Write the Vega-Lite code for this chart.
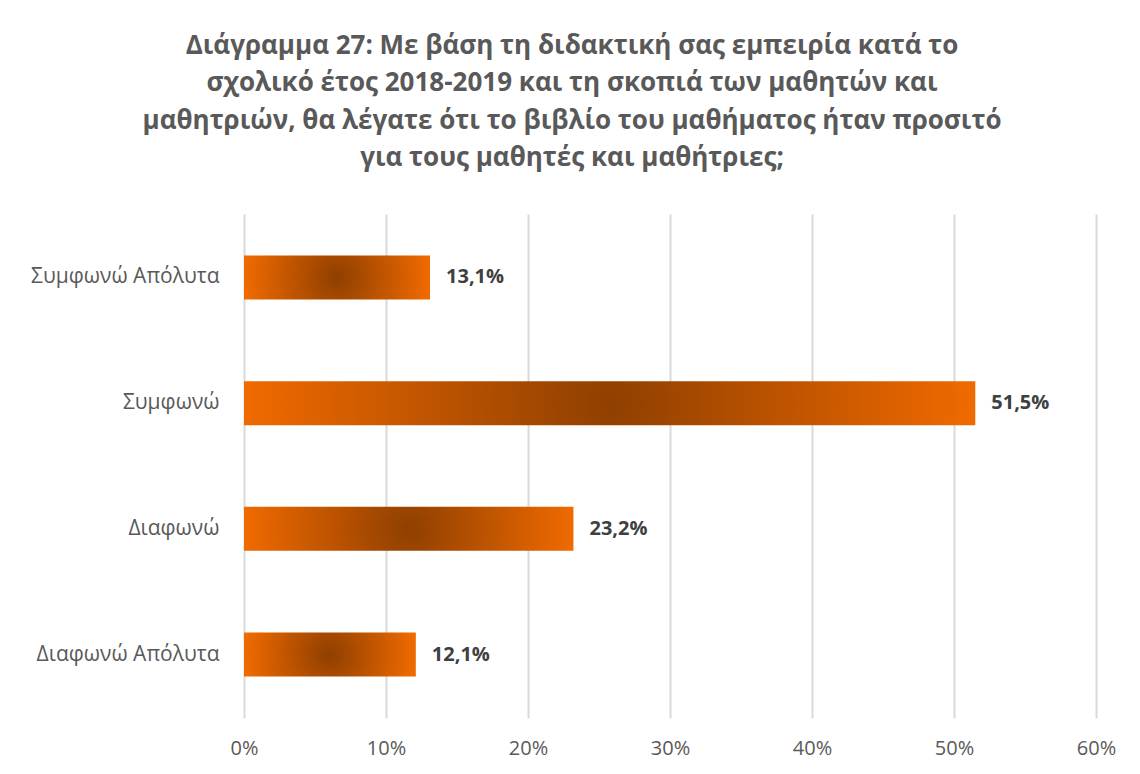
{
  "$schema": "https://vega.github.io/schema/vega-lite/v6.json",
  "autosize": "none",
  "width": 852,
  "height": 504,
  "padding": {"left": 244, "top": 214, "right": 44, "bottom": 56},
  "background": "#ffffff",
  "title": {
    "text": [
      "Διάγραμμα 27: Με βάση τη διδακτική σας εμπειρία κατά το",
      "σχολικό έτος 2018-2019 και τη σκοπιά των μαθητών και",
      "μαθητριών, θα λέγατε ότι το βιβλίο του μαθήματος ήταν προσιτό",
      "για τους μαθητές και μαθήτριες;"
    ],
    "anchor": "middle",
    "dx": -98,
    "offset": 43,
    "font": "Open Sans",
    "fontSize": 26,
    "fontWeight": "bold",
    "color": "#595959",
    "lineHeight": 37.5
  },
  "data": {
    "values": [
      {"category": "Συμφωνώ Απόλυτα", "share": 0.131},
      {"category": "Συμφωνώ", "share": 0.515},
      {"category": "Διαφωνώ", "share": 0.232},
      {"category": "Διαφωνώ Απόλυτα", "share": 0.121}
    ]
  },
  "encoding": {
    "y": {
      "field": "category",
      "type": "nominal",
      "sort": null,
      "title": null,
      "scale": {"paddingInner": 0.65, "paddingOuter": 0.33},
      "axis": {
        "domain": false,
        "ticks": false,
        "labelFont": "Open Sans",
        "labelFontSize": 21,
        "labelColor": "#595959",
        "labelPadding": 25,
        "labelLimit": 300
      }
    },
    "x": {
      "field": "share",
      "type": "quantitative",
      "title": null,
      "scale": {"domain": [0, 0.6], "nice": false},
      "axis": {
        "format": ".0%",
        "values": [0, 0.1, 0.2, 0.3, 0.4, 0.5, 0.6],
        "domain": false,
        "ticks": false,
        "grid": true,
        "gridColor": "#d9d9d9",
        "gridWidth": 2,
        "labelFlush": false,
        "labelFont": "Open Sans",
        "labelFontSize": 20,
        "labelColor": "#595959",
        "labelPadding": 20
      }
    }
  },
  "layer": [
    {
      "mark": {
        "type": "bar",
        "color": {
          "gradient": "radial",
          "x1": 0.5, "y1": 0.5, "r1": 0,
          "x2": 0.5, "y2": 0.5, "r2": 0.5,
          "stops": [
            {"offset": 0, "color": "#8f3f00"},
            {"offset": 1, "color": "#f06a00"}
          ]
        }
      }
    },
    {
      "mark": {
        "type": "text",
        "align": "left",
        "baseline": "middle",
        "dx": 16,
        "font": "Open Sans",
        "fontSize": 20,
        "fontWeight": "bold",
        "color": "#404040"
      },
      "encoding": {
        "text": {"field": "share", "type": "quantitative", "format": ".1%"}
      }
    }
  ],
  "config": {
    "view": {"stroke": null},
    "locale": {
      "number": {"decimal": ",", "thousands": ".", "grouping": [3], "currency": ["", " €"]}
    }
  }
}
